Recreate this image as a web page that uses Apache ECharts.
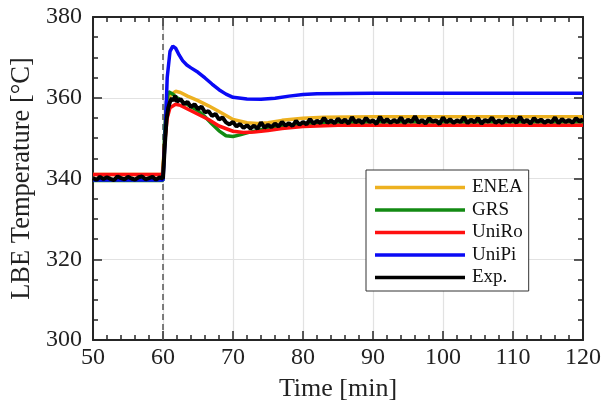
<!DOCTYPE html>
<html><head><meta charset="utf-8">
<script src="https://cdn.jsdelivr.net/npm/echarts@6/dist/echarts.min.js"></script>
<style>html,body{margin:0;padding:0;background:#fff}#c{width:616px;height:413px}</style>
</head><body><div id="c"></div>
<script>
var seriesNames = ['ENEA', 'GRS', 'UniRo', 'UniPi', 'Exp.'];
var eventTime = 60;
var enea = [[50,341],[59.9,341],[60,341],[60.3,350],[60.6,357],[61,360.5],[61.8,361.6],[62.5,361.3],[63.5,360.4],[65,359.3],[66.5,358],[68,356.6],[70,354.6],[72,353.8],[73.5,353.6],[75,353.8],[77,354.4],[80,354.9],[83,355.2],[90,355.3],[120,355.3]];
var grs = [[50,339.5],[60,339.5],[60.2,350],[60.5,359],[60.8,361.5],[61.3,361.0],[62,360],[63,358.8],[64,357.8],[65,356.8],[66,355.3],[67,353.5],[68,351.8],[69,350.6],[70,350.4],[71,350.8],[72,351.3],[74,352.1],[76,352.7],[78,353.2],[80,353.6],[85,353.9],[90,354],[120,354]];
var uniro = [[50,341],[60,341],[60.2,348],[60.6,355],[61,357.5],[61.8,358.4],[62.5,358.1],[63.5,357.2],[65,355.9],[66.5,354.6],[68,353.0],[70,351.7],[71.5,351.4],[73,351.5],[75,351.9],[77,352.4],[80,352.9],[85,353.2],[120,353.2]];
var unipi = [[50,339.6],[60,339.6],[60.3,350],[60.6,365],[61,371.5],[61.4,372.8],[61.8,372.3],[62.3,370.6],[62.8,369.2],[63.4,368.1],[64,367.4],[65,366.3],[66,364.9],[67,363.4],[68,362.0],[69,360.9],[70,360.1],[72,359.7],[74,359.6],[76,359.9],[78,360.4],[80,360.8],[82,361],[90,361.1],[120,361.1]];
var exp = [[50,340.1],[50.5,339.7],[51,340.4],[51.5,339.9],[52,340.3],[52.5,339.9],[53,339.6],[53.5,340.5],[54,340.1],[54.5,339.8],[55,340.4],[55.5,340.0],[56,339.7],[56.5,340.3],[57,340.5],[57.5,339.8],[58,340.1],[58.5,340.4],[59,339.7],[59.5,340.3],
[60,340.0],[60.25,348],[60.5,354.5],[60.75,357.5],[61,359.0],[61.25,359.9],[61.5,359.2],[61.75,360.5],[62,359.0],[62.5,359.7],[63,358.4],[63.5,359.0],[64,357.7],[64.5,358.4],[65,357.2],[65.5,357.8],[66,356.4],[66.5,356.7],[67,355.5],[67.5,356.0],[68,354.6],[68.5,355.1],[69,353.9],[69.5,353.4],[70,354.0],[70.5,352.9],[71,353.5],[71.5,352.5],[72,353.2],[72.5,352.4],[73,353.1],[73.5,352.3],[74,353.9],[74.5,352.6],[75,353.3],[75.5,352.7],[76,353.6],[76.5,352.9],[77,354.0],[77.5,353.1],[78,353.7],[78.5,353.0],[79,354.3],[79.5,353.3],[80,354.0],[80.5,353.4],[81,354.7],[81.5,353.6],[82,354.3],[82.5,353.7],[83,355.0],[83.5,353.8],[84,354.4],
[84.5,353.7],[85,354.8],[85.5,353.9],[86,354.6],[86.5,353.6],[87,355.2],[87.5,353.9],[88,354.5],[88.5,353.7],[89,355.0],[89.5,354.0],[90,354.4],[90.5,353.5],[91,355.3],[91.5,353.9],[92,354.7],[92.5,353.8],[93,354.5],[93.5,353.9],[94,355.1],[94.5,353.7],[95,354.6],[95.5,354.0],[96,355.4],[96.5,353.8],[97,354.5],[97.5,353.6],[98,354.9],[98.5,354.1],[99,354.4],[99.5,353.5],[100,355.1],[100.5,353.9],[101,354.7],[101.5,353.8],[102,354.4],[102.5,354.0],[103,355.2],[103.5,353.7],[104,354.6],[104.5,353.9],[105,355.0],[105.5,353.6],[106,354.5],[106.5,354.1],[107,355.1],[107.5,353.8],[108,354.4],[108.5,353.7],[109,354.9],[109.5,354.0],[110,354.7],[110.5,353.8],[111,355.3],[111.5,353.9],[112,354.5],[112.5,353.6],[113,355.0],[113.5,354.0],[114,354.6],[114.5,353.8],[115,354.4],[115.5,353.9],[116,355.1],[116.5,353.7],[117,354.7],[117.5,354.0],[118,354.5],[118.5,353.8],[119,354.9],[119.5,354.1],[120,354.6]];
var xMin = 50, xMax = 120, xStep = 10;
var yMin = 300, yMax = 380, yStep = 20;

var font = 'Liberation Serif';
var axisCol = '#262626';
var chart = echarts.init(document.getElementById('c'), null, {renderer: 'canvas'});
function mkX(pos, main) {
  return {type: 'value', position: pos, min: xMin, max: xMax, interval: xStep,
    name: main ? 'Time [min]' : '', nameLocation: 'middle', nameGap: 36,
    nameTextStyle: {fontFamily: font, fontSize: 26, color: '#222'},
    axisLine: {show: true, onZero: false, lineStyle: {color: axisCol, width: 2}},
    axisTick: {show: true, inside: true, length: 9, lineStyle: {color: axisCol, width: 1.5}},
    minorTick: {show: true, splitNumber: 5, length: 5, lineStyle: {color: axisCol, width: 1.5}},
    axisLabel: {show: main, margin: 6, fontFamily: font, fontSize: 24, color: '#222'},
    splitLine: {show: main, lineStyle: {color: '#e2e2e2', width: 1.2}}};
}
function mkY(pos, main) {
  return {type: 'value', position: pos, min: yMin, max: yMax, interval: yStep,
    name: main ? 'LBE Temperature [°C]' : '', nameLocation: 'middle', nameGap: 56,
    nameTextStyle: {fontFamily: font, fontSize: 26.5, color: '#222'},
    axisLine: {show: true, onZero: false, lineStyle: {color: axisCol, width: 2}},
    axisTick: {show: true, inside: true, length: 9, lineStyle: {color: axisCol, width: 1.5}},
    minorTick: {show: true, splitNumber: 4, length: 5, lineStyle: {color: axisCol, width: 1.5}},
    axisLabel: {show: main, margin: 11, fontFamily: font, fontSize: 24, color: '#222'},
    splitLine: {show: main, lineStyle: {color: '#e2e2e2', width: 1.2}}};
}
function line(name, data, color, w, z) {
  return {name: name, type: 'line', data: data, xAxisIndex: 0, yAxisIndex: 0, showSymbol: false, symbol: 'none',
    lineStyle: {color: color, width: w}, itemStyle: {color: color}, z: z, animation: false};
}
chart.setOption({
  animation: false,
  grid: {left: 93, right: 33, top: 17, bottom: 73, containLabel: false},
  xAxis: [mkX('bottom', true), mkX('top', false)],
  yAxis: [mkY('left', true), mkY('right', false)],
  legend: {data: seriesNames.map(function (n) { return {name: n, icon: 'rect'}; }),
    orient: 'vertical', left: 366, top: 170,
    padding: [8, 6, 4, 9], itemGap: 3.5, itemWidth: 90, itemHeight: 3.5,
    backgroundColor: '#fff', borderColor: '#333', borderWidth: 1,
    textStyle: {fontFamily: font, fontSize: 19, color: '#111', padding: [0, 0, 0, 2]}},
  series: [
    {name: 'event', type: 'line', data: [[eventTime, yMin], [eventTime, yMax]], symbol: 'none',
      lineStyle: {color: '#555', width: 1.5, type: [6, 4]}, z: 1, silent: true},
    line('ENEA', enea, '#EDB120', 3.5, 3),
    line('GRS', grs, '#138A13', 3.5, 4),
    line('UniRo', uniro, '#FF1010', 3.5, 5),
    line('UniPi', unipi, '#0A0AF5', 3.5, 6),
    line('Exp.', exp, '#000000', 4, 7)
  ]
});
</script></body></html>
